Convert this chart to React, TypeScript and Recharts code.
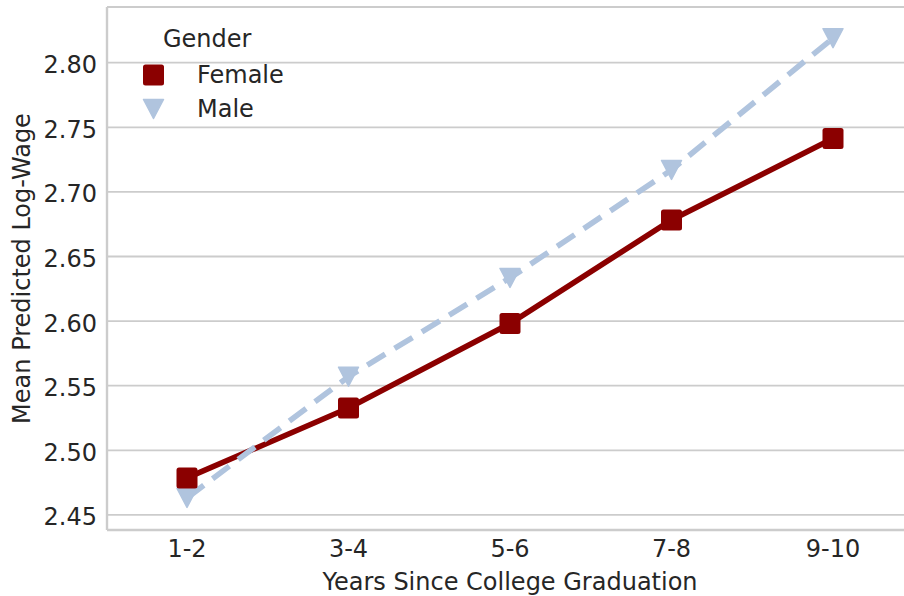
import { LineChart, Line, XAxis, YAxis, CartesianGrid, Legend, Label } from "recharts";

const categories = ["1-2", "3-4", "5-6", "7-8", "9-10"];
const female = [2.4786, 2.5327, 2.5981, 2.6783, 2.7413];
const male = [2.4631, 2.557, 2.6334, 2.717, 2.819];
const yTicks = [2.45, 2.5, 2.55, 2.6, 2.65, 2.7, 2.75, 2.8];

const RED = "#8B0000";
const BLUE = "#B0C4DE";
const INK = "#262626";
const GRID = "#cccccc";
const FONT = "'DejaVu Sans', sans-serif";

const data = categories.map((c, i) => ({ years: c, Female: female[i], Male: male[i] }));

function SquareDot(props: any) {
  const { cx, cy, index } = props;
  if (cx == null || cy == null) return <g key={index} />;
  return <rect key={index} x={cx - 10.5} y={cy - 10.5} width={21} height={21} rx={2.5} fill={RED} />;
}

function TriDot(props: any) {
  const { cx, cy, index } = props;
  if (cx == null || cy == null) return <g key={index} />;
  return (
    <path
      key={index}
      d={`M${cx - 10},${cy - 9.5} L${cx + 10},${cy - 9.5} L${cx},${cy + 9.5} Z`}
      fill={BLUE}
      stroke={BLUE}
      strokeWidth={1.5}
      strokeLinejoin="round"
    />
  );
}

const series = [
  { name: "Female", marker: (x: number, y: number) => <rect x={x - 10.5} y={y - 10.5} width={21} height={21} rx={2.5} fill={RED} /> },
  {
    name: "Male",
    marker: (x: number, y: number) => (
      <path d={`M${x - 10},${y - 9.5} L${x + 10},${y - 9.5} L${x},${y + 9.5} Z`} fill={BLUE} stroke={BLUE} strokeWidth={1.5} strokeLinejoin="round" />
    ),
  },
];

function GenderLegend() {
  return (
    <div style={{ fontFamily: FONT, fontSize: 24, color: INK }}>
      <div style={{ height: 37, lineHeight: "37px", paddingLeft: 20 }}>Gender</div>
      {series.map((s) => (
        <div key={s.name} style={{ height: 34, display: "flex", alignItems: "center" }}>
          <svg width={24} height={24} style={{ marginLeft: -1 }}>
            {s.marker(11.5, 12)}
          </svg>
          <span style={{ marginLeft: 31 }}>{s.name}</span>
        </div>
      ))}
    </div>
  );
}

export default function App() {
  return (
    <div style={{ position: "fixed", left: 0, top: 0, width: 904, height: 596, overflow: "hidden", background: "#fff" }}>
      <LineChart width={920} height={596} data={data} margin={{ top: 7, right: 7, bottom: 0, left: 0 }}>
        <CartesianGrid vertical={false} stroke={GRID} strokeWidth={1.8} />
        <XAxis
          dataKey="years"
          height={66}
          padding={{ left: 80, right: 80 }}
          tickLine={false}
          tickSize={0}
          tickMargin={10}
          axisLine={{ stroke: GRID, strokeWidth: 2.4 }}
          tick={{ fill: INK, fontSize: 24, fontFamily: FONT }}
        >
          <Label
            content={(p: any) => {
              const vb = p.viewBox;
              return (
                <text x={vb.x + vb.width / 2} y={590} textAnchor="middle" fill={INK} fontSize={24} fontFamily={FONT}>
                  Years Since College Graduation
                </text>
              );
            }}
          />
        </XAxis>
        <XAxis xAxisId="top" dataKey="years" orientation="top" height={0} tick={false} tickLine={false} axisLine={{ stroke: GRID, strokeWidth: 2.4 }} />
        <YAxis
          width={107}
          domain={[2.4383, 2.8431]}
          allowDataOverflow
          ticks={yTicks}
          tickFormatter={(v: number) => v.toFixed(2)}
          tickLine={false}
          tickSize={0}
          tickMargin={10}
          axisLine={{ stroke: GRID, strokeWidth: 2.4 }}
          tick={{ fill: INK, fontSize: 24, fontFamily: FONT, dy: 2 }}
        >
          <Label
            content={(p: any) => {
              const vb = p.viewBox;
              const cy = vb.y + vb.height / 2;
              return (
                <text x={29.5} y={cy} transform={`rotate(-90 29.5 ${cy})`} textAnchor="middle" fill={INK} fontSize={24} fontFamily={FONT}>
                  Mean Predicted Log-Wage
                </text>
              );
            }}
          />
        </YAxis>
        <Legend
          layout="vertical"
          align="center"
          verticalAlign="middle"
          wrapperStyle={{ left: 143, top: 21, width: 200 }}
          content={() => <GenderLegend />}
        />
        <Line dataKey="Female" stroke={RED} strokeWidth={5.6} dot={false} activeDot={false} isAnimationActive={false} legendType="none" />
        <Line dataKey="Male" stroke={BLUE} strokeWidth={5.6} strokeDasharray="21 11" dot={false} activeDot={false} isAnimationActive={false} legendType="none" />
        <Line dataKey="Male" stroke="none" dot={TriDot} activeDot={false} isAnimationActive={false} legendType="none" />
        <Line dataKey="Female" stroke="none" dot={SquareDot} activeDot={false} isAnimationActive={false} legendType="none" />
      </LineChart>
    </div>
  );
}
